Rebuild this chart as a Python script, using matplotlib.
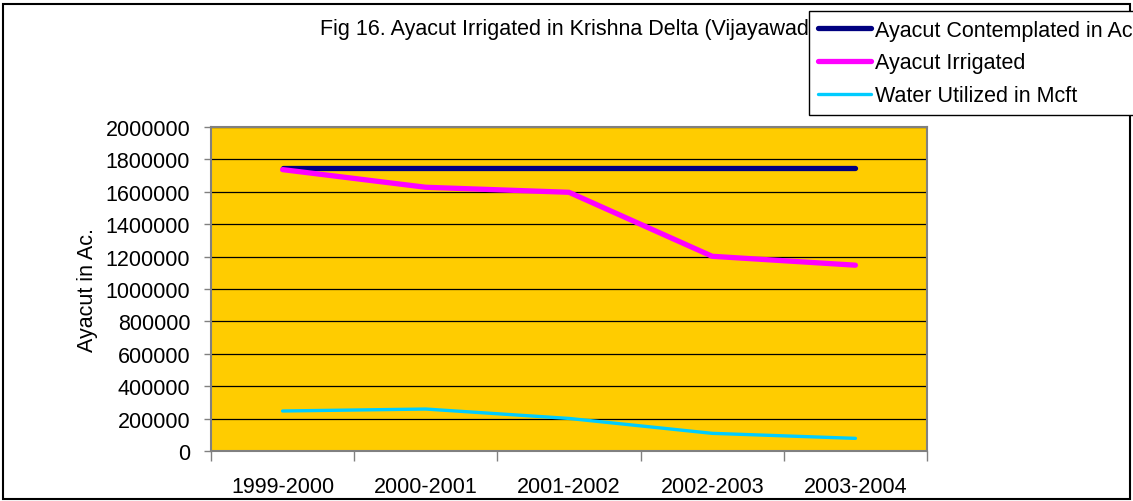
import matplotlib.pyplot as plt
from matplotlib.patches import Rectangle
from matplotlib.ticker import FixedLocator, MultipleLocator, NullFormatter, StrMethodFormatter

# Data
years = ['1999-2000', '2000-2001', '2001-2002', '2002-2003', '2003-2004']
contemplated = [1750000, 1750000, 1750000, 1750000, 1750000]
irrigated = [1737000, 1628000, 1597000, 1202000, 1147000]
water = [247000, 259000, 201000, 109000, 78000]

plt.rcParams['font.family'] = ['Liberation Sans', 'DejaVu Sans']
fs = 15.5

fig = plt.figure(figsize=(11.33, 5.02), dpi=100)
ax = fig.add_axes([0.1862, 0.0996, 0.632, 0.6454])
ax.set_facecolor('#FFCC00')

x = list(range(len(years)))
ax.plot(x, contemplated, color='#000080', lw=3.8, solid_capstyle='round', label='Ayacut Contemplated in Ac', zorder=3)
ax.plot(x, irrigated, color='#FF00FF', lw=3.8, solid_capstyle='round', label='Ayacut Irrigated', zorder=3)
ax.plot(x, water, color='#00CCFF', lw=2.4, solid_capstyle='round', label='Water Utilized in Mcft', zorder=3)

# y axis
ax.set_ylim(0, 2000000)
ax.yaxis.set_major_locator(MultipleLocator(200000))
ax.yaxis.set_major_formatter(StrMethodFormatter('{x:.0f}'))
ax.yaxis.grid(True, color='black', lw=0.9)
ax.set_axisbelow(True)
ax.tick_params(axis='y', direction='out', length=5, width=1, color='#808080', labelsize=fs, pad=10)
ax.set_ylabel('Ayacut in Ac.', fontsize=fs, labelpad=5)

# x axis: category labels centered, tick marks at boundaries
ax.set_xlim(-0.5, len(years) - 0.5)
ax.set_xticks(x)
ax.set_xticklabels(years, fontsize=fs)
ax.tick_params(axis='x', which='major', length=0, pad=18)
ax.xaxis.set_minor_locator(FixedLocator([i - 0.5 for i in range(len(years) + 1)]))
ax.xaxis.set_minor_formatter(NullFormatter())
ax.tick_params(axis='x', which='minor', direction='out', length=7, width=1, color='#808080')

for side in ['left', 'bottom', 'right', 'top']:
    ax.spines[side].set_color('#808080')
    ax.spines[side].set_linewidth(1.5)

fig.text(320 / 1133, 1 - 30 / 502, 'Fig 16. Ayacut Irrigated in Krishna Delta (Vijayawada)',
         fontsize=fs, ha='left', va='center')

leg = fig.legend(loc='upper left', bbox_to_anchor=(809 / 1133, 1 - 12 / 502), fontsize=fs,
                 handlelength=2.5, handletextpad=0.15, borderaxespad=0, labelspacing=0.55,
                 borderpad=0.4, fancybox=False, framealpha=1, edgecolor='black')
leg.get_frame().set_linewidth(1.0)
leg.set_zorder(10)

fig.patches.append(Rectangle((0.003, 0.003), 0.994, 0.988, transform=fig.transFigure,
                             fill=False, edgecolor='black', lw=1.5))

fig.savefig('out.png', dpi=100)
